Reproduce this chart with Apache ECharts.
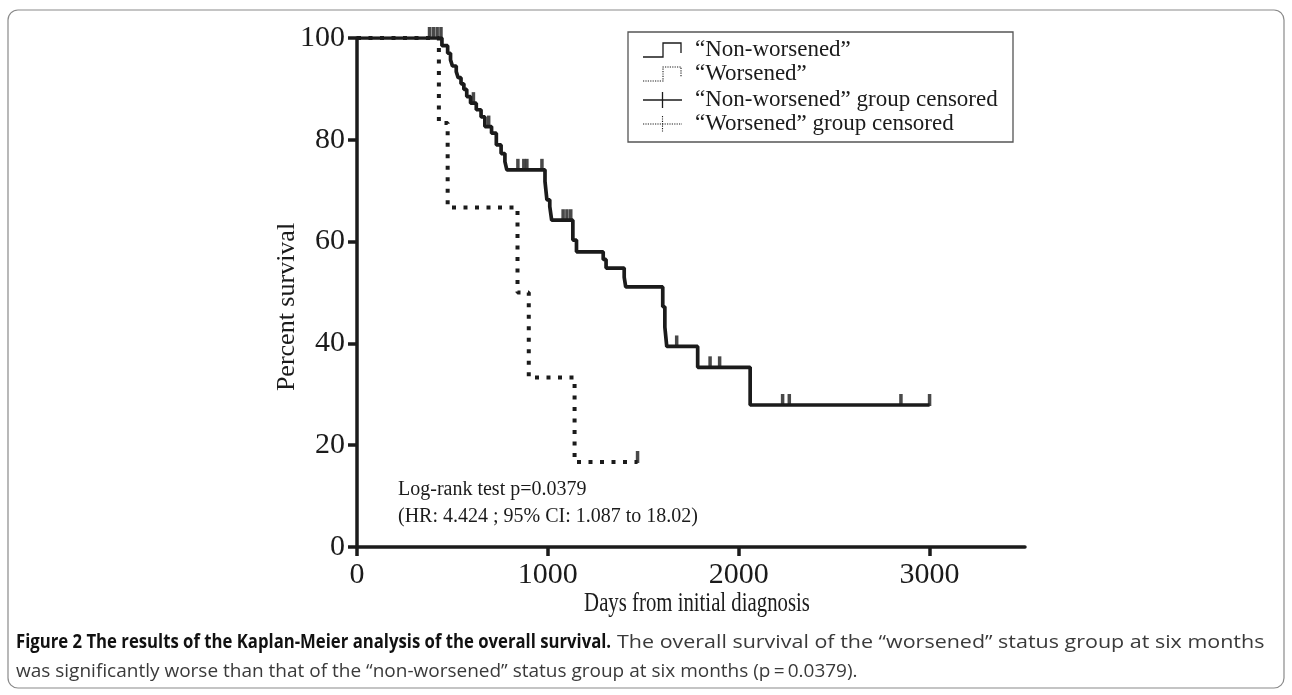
<!DOCTYPE html>
<html>
<head>
<meta charset="utf-8">
<script src="https://cdn.jsdelivr.net/npm/echarts@6/dist/echarts.min.js"></script>
<style>
  html, body { margin: 0; padding: 0; background: #fff; }
  #chart { width: 1292px; height: 695px; }
</style>
</head>
<body>
<div id="chart"></div>
<script>
// ---- data ----
const nwDays = [0, 445, 475, 490, 500, 520, 530, 545, 560, 575, 595, 625, 650, 670, 705, 730, 755, 775, 785, 985, 995, 1010, 1020, 1131, 1150, 1290, 1305, 1400, 1408, 1602, 1613, 1623, 1785, 2060, 3000];
const nwPct  = [100, 98.5, 97.0, 95.7, 94.5, 93.4, 92.2, 91.0, 89.9, 88.5, 87.2, 85.9, 84.5, 82.6, 81.3, 79.0, 77.3, 75.7, 74.1, 71.8, 68.2, 66.9, 64.2, 60.3, 58.0, 56.5, 54.8, 53.0, 51.1, 47.2, 43.2, 39.4, 35.3, 27.9, 27.9];
const nwCensorDays = [380, 400, 420, 440, 610, 690, 843, 874, 890, 969, 1080, 1100, 1120, 1675, 1850, 1900, 2230, 2265, 2850, 3000];
const nwCensorPct  = [100, 100, 100, 100, 87.2, 82.6, 74.1, 74.1, 74.1, 74.1, 64.2, 64.2, 64.2, 39.4, 35.3, 35.3, 27.9, 27.9, 27.9, 27.9];
const wDays = [0, 429, 475, 841, 900, 1140, 1470];
const wPct  = [100, 83.3, 66.7, 50.0, 33.3, 16.7, 16.7];
const wCensorDays = [1470];
const wCensorPct  = [16.7];
const xTicks = [0, 1000, 2000, 3000];
const yTicks = [0, 20, 40, 60, 80, 100];
const legendLabels = ['\u201cNon-worsened\u201d', '\u201cWorsened\u201d', '\u201cNon-worsened\u201d group censored', '\u201cWorsened\u201d group censored'];
const statLines = ['Log-rank test p=0.0379', '(HR: 4.424 ; 95% CI: 1.087 to 18.02)'];
const xName = 'Days from initial diagnosis';
const yName = 'Percent survival';
const captionBold = 'Figure 2 The results of the Kaplan-Meier analysis of the overall survival.';
const captionRest1 = 'The overall survival of the \u201cworsened\u201d status group at six months';
const captionLine2 = 'was significantly worse than that of the \u201cnon-worsened\u201d status group at six months (p\u2009=\u20090.0379).';

const serif = '"Liberation Serif", "DejaVu Serif", serif';
const capFont = '"Open Sans", sans-serif';
const ink = '#1b1b1b';

const zip = (a, b) => a.map((v, i) => [v, b[i]]);

const chart = echarts.init(document.getElementById('chart'), null, { renderer: 'canvas' });

const legendY = [50, 74, 100, 124];
const lgX0 = 643, lgX1 = 682;

const legendGraphics = [
  { type: 'rect', shape: { x: 628, y: 32, width: 385, height: 110 }, style: { fill: 'none', stroke: '#555', lineWidth: 1.3 } },
  { type: 'polyline', shape: { points: [[lgX0, legendY[0] + 7], [lgX0 + 20, legendY[0] + 7], [lgX0 + 20, legendY[0] - 7], [lgX0 + 38, legendY[0] - 7], [lgX0 + 38, legendY[0] + 3]] }, style: { stroke: ink, lineWidth: 1.3, fill: 'none' } },
  { type: 'polyline', shape: { points: [[lgX0, legendY[1] + 7], [lgX0 + 20, legendY[1] + 7], [lgX0 + 20, legendY[1] - 7], [lgX0 + 38, legendY[1] - 7], [lgX0 + 38, legendY[1] + 3]] }, style: { stroke: ink, lineWidth: 1.1, fill: 'none', lineDash: [1.2, 1.2] } },
  { type: 'line', shape: { x1: lgX0, y1: legendY[2], x2: lgX1, y2: legendY[2] }, style: { stroke: ink, lineWidth: 1.3 } },
  { type: 'line', shape: { x1: (lgX0 + lgX1) / 2, y1: legendY[2] - 8, x2: (lgX0 + lgX1) / 2, y2: legendY[2] + 8 }, style: { stroke: ink, lineWidth: 1.3 } },
  { type: 'line', shape: { x1: lgX0, y1: legendY[3], x2: lgX1, y2: legendY[3] }, style: { stroke: ink, lineWidth: 1.1, lineDash: [1.2, 1.2] } },
  { type: 'line', shape: { x1: (lgX0 + lgX1) / 2, y1: legendY[3] - 8, x2: (lgX0 + lgX1) / 2, y2: legendY[3] + 8 }, style: { stroke: ink, lineWidth: 1.1, lineDash: [1.2, 1.2] } }
].concat(legendLabels.map((t, i) => ({
  type: 'text', x: 695, y: legendY[i], style: { text: t, font: '23px ' + serif, fill: ink, textVerticalAlign: 'middle' }
})));

chart.setOption({
  animation: false,
  backgroundColor: '#fff',
  grid: { left: 357, right: 267, top: 38, bottom: 148 },
  xAxis: {
    type: 'value', min: 0, max: 3500, interval: 1000,
    axisLine: { show: true, lineStyle: { color: ink, width: 3.5 } },
    axisTick: { show: true, length: 9, lineStyle: { color: ink, width: 3.5 }, customValues: xTicks },
    axisLabel: { fontFamily: serif, fontSize: 30, color: ink, margin: 13, customValues: xTicks, formatter: v => String(v) },
    splitLine: { show: false }
  },
  yAxis: {
    type: 'value', min: 0, max: 100, interval: 20,
    axisLine: { show: true, lineStyle: { color: ink, width: 3.5 } },
    axisTick: { show: true, length: 9, lineStyle: { color: ink, width: 3.5 }, customValues: yTicks },
    axisLabel: { fontFamily: serif, fontSize: 30, color: ink, margin: 12, customValues: yTicks, formatter: v => String(v) },
    splitLine: { show: false }
  },
  series: [
    {
      name: legendLabels[1], type: 'line', step: 'end', data: zip(wDays, wPct),
      symbol: 'none', z: 2,
      lineStyle: { color: ink, width: 4, type: [4, 7.5], cap: 'butt' }
    },
    {
      name: legendLabels[0], type: 'line', step: 'end', data: zip(nwDays, nwPct),
      symbol: 'none', z: 3,
      lineStyle: { color: ink, width: 3.7 }
    },
    {
      name: legendLabels[2], type: 'scatter', data: zip(nwCensorDays, nwCensorPct),
      symbol: 'rect', symbolSize: [3.5, 12], symbolOffset: [0, -5], z: 4,
      itemStyle: { color: ink }
    },
    {
      name: legendLabels[3], type: 'scatter', data: zip(wCensorDays, wCensorPct),
      symbol: 'rect', symbolSize: [3.5, 12], symbolOffset: [0, -5], z: 4,
      itemStyle: { color: ink }
    }
  ],
  graphic: [
    { type: 'rect', shape: { x: 8, y: 10, width: 1276, height: 678, r: 10 }, style: { fill: 'none', stroke: '#8a8a8a', lineWidth: 1.2 }, z: -1 },
    { type: 'text', x: 697, y: 604, scaleX: 0.77, style: { text: xName, font: '27px ' + serif, fill: ink, textAlign: 'center', textVerticalAlign: 'middle' } },
    { type: 'text', x: 287, y: 307, rotation: Math.PI / 2, style: { text: yName, font: '26px ' + serif, fill: ink, textAlign: 'center', textVerticalAlign: 'middle' } },
    { type: 'text', x: 398, y: 490, style: { text: statLines[0], font: '20px ' + serif, fill: ink, textVerticalAlign: 'middle' } },
    { type: 'text', x: 398, y: 517, style: { text: statLines[1], font: '20px ' + serif, fill: ink, textVerticalAlign: 'middle' } },
    { type: 'text', x: 16, y: 643, scaleX: 0.88, style: { text: captionBold, font: 'bold 19px ' + capFont, fill: '#111', textVerticalAlign: 'middle' } },
    { type: 'text', x: 617, y: 643, scaleX: 1.13, style: { text: captionRest1, font: '19px ' + capFont, fill: '#3a3a3a', textVerticalAlign: 'middle' } },
    { type: 'text', x: 16, y: 672, style: { text: captionLine2, font: '19px ' + capFont, fill: '#3a3a3a', textVerticalAlign: 'middle' } }
  ].concat(legendGraphics)
});
</script>
</body>
</html>
